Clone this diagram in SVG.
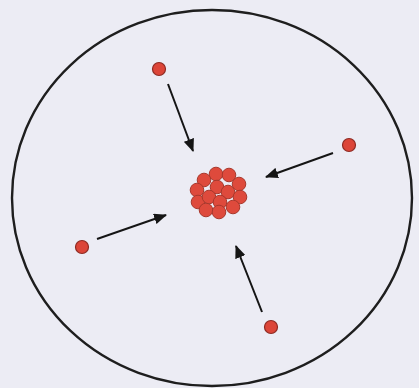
<svg xmlns="http://www.w3.org/2000/svg" width="419" height="388" viewBox="0 0 419 388">
<style>
.bg{fill:#ececf4}
.rim{fill:none;stroke:#1e1e1e;stroke-width:2.4}
.p{fill:#dc4538;stroke:#8e2a22;stroke-width:1.2}
.n{fill:#de4a3c;stroke:#a8382c;stroke-width:1}
.a{stroke:#151515;stroke-width:2;fill:none;marker-end:url(#ah)}
</style>
<defs>
<marker id="ah" viewBox="0 0 12 10" refX="11" refY="5" markerWidth="6.5" markerHeight="5.5" orient="auto" markerUnits="strokeWidth">
<path d="M0,0 L12,5 L0,10 z" fill="#151515"/>
</marker>
</defs>
<rect class="bg" x="0" y="0" width="419" height="388"/>
<g id="boundary"><ellipse class="rim" cx="212" cy="198" rx="200" ry="188"/></g>
<g id="nucleus">
<circle class="n" cx="216" cy="174" r="6.8"/>
<circle class="n" cx="229" cy="175" r="6.8"/>
<circle class="n" cx="204" cy="180" r="6.8"/>
<circle class="n" cx="239" cy="184" r="6.8"/>
<circle class="n" cx="197" cy="190" r="6.8"/>
<circle class="n" cx="217" cy="187" r="6.8"/>
<circle class="n" cx="228" cy="192" r="6.8"/>
<circle class="n" cx="240" cy="197" r="6.8"/>
<circle class="n" cx="198" cy="202" r="6.8"/>
<circle class="n" cx="209" cy="197" r="6.8"/>
<circle class="n" cx="220" cy="202" r="6.8"/>
<circle class="n" cx="233" cy="207" r="6.8"/>
<circle class="n" cx="206" cy="210" r="6.8"/>
<circle class="n" cx="219" cy="212" r="6.8"/>
</g>
<g id="p1"><circle class="p" cx="159" cy="69" r="6.5"/></g>
<g id="p2"><circle class="p" cx="349" cy="145" r="6.5"/></g>
<g id="p3"><circle class="p" cx="82" cy="247" r="6.5"/></g>
<g id="p4"><circle class="p" cx="271" cy="327" r="6.5"/></g>
<g id="connectors">
<line class="a" x1="168" y1="84" x2="193" y2="151"/>
<line class="a" x1="333" y1="153" x2="266" y2="177"/>
<line class="a" x1="97" y1="239" x2="166" y2="215"/>
<line class="a" x1="262" y1="312" x2="236" y2="246"/>
</g>
</svg>
